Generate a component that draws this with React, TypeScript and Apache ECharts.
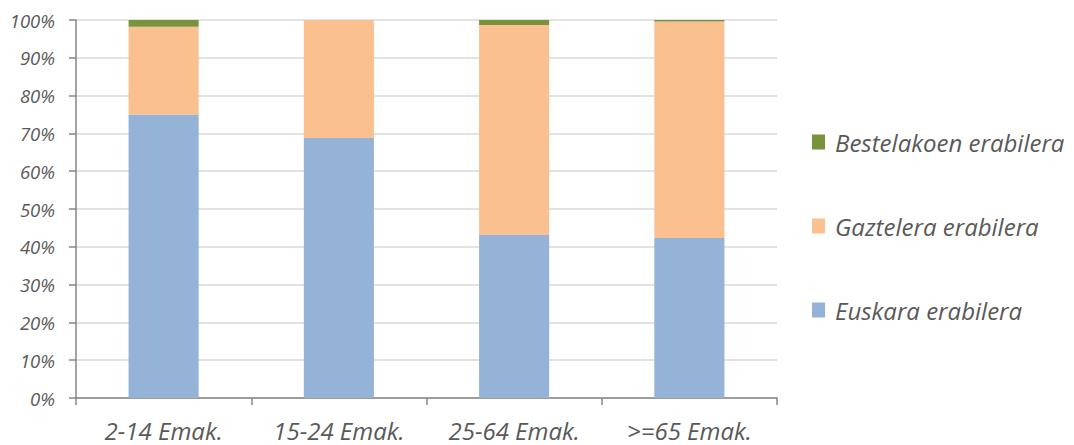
import React, { useEffect, useRef } from "react";
import * as echarts from "echarts";

const categories = ["2-14 Emak.", "15-24 Emak.", "25-64 Emak.", ">=65 Emak."];
const euskara = [75.0, 68.8, 43.1, 42.3];
const gaztelera = [23.2, 31.2, 55.6, 57.3];
const bestelakoen = [1.8, 0.0, 1.3, 0.4];
const yTicks = [0, 10, 20, 30, 40, 50, 60, 70, 80, 90, 100];

const FONT = "'Open Sans', sans-serif";
const TXT = "#595959";
const AXIS = "#868686";

export default function App() {
  const ref = useRef<HTMLDivElement>(null);
  useEffect(() => {
    if (!ref.current) return;
    const chart = echarts.init(ref.current, undefined, { renderer: "svg" });
    chart.setOption({
      animation: false,
      grid: { left: 76, right: 297, top: 20, bottom: 47 },
      legend: {
        orient: "vertical",
        left: 812,
        top: 130,
        padding: 0,
        itemWidth: 13,
        itemHeight: 15,
        itemGap: 60,
        icon: "rect",
        data: ["Bestelakoen erabilera", "Gaztelera erabilera", "Euskara erabilera"],
        textStyle: {
          fontFamily: FONT,
          fontStyle: "italic",
          fontSize: 24,
          color: TXT,
          lineHeight: 24,
          padding: [0, 0, 0, 5],
        },
      },
      xAxis: {
        type: "category",
        data: categories,
        axisLine: { lineStyle: { color: AXIS, width: 1.5 } },
        axisTick: { show: true, length: 7, lineStyle: { color: AXIS, width: 1.5 } },
        axisLabel: {
          fontFamily: FONT,
          fontStyle: "italic",
          fontSize: 24,
          lineHeight: 20,
          color: TXT,
          margin: 22,
        },
      },
      yAxis: {
        type: "value",
        min: yTicks[0],
        max: yTicks[yTicks.length - 1],
        interval: 10,
        axisLine: { show: true, lineStyle: { color: AXIS, width: 1.5 } },
        axisTick: { show: true, length: 7, lineStyle: { color: AXIS, width: 1.5 } },
        splitLine: { lineStyle: { color: "#d9d9d9", width: 1.5 } },
        axisLabel: {
          formatter: "{value}%",
          fontFamily: FONT,
          fontStyle: "italic",
          fontSize: 18.5,
          color: TXT,
          margin: 21,
        },
      },
      series: [
        {
          name: "Euskara erabilera",
          type: "bar",
          stack: "total",
          data: euskara,
          barWidth: "40%",
          itemStyle: { color: "#95b3d7" },
        },
        {
          name: "Gaztelera erabilera",
          type: "bar",
          stack: "total",
          data: gaztelera,
          barWidth: "40%",
          itemStyle: { color: "#fac090" },
        },
        {
          name: "Bestelakoen erabilera",
          type: "bar",
          stack: "total",
          data: bestelakoen,
          barWidth: "40%",
          itemStyle: { color: "#77933c" },
        },
      ],
    });
    return () => chart.dispose();
  }, []);
  return (
    <div
      ref={ref}
      style={{ position: "absolute", left: 0, top: 0, width: 1074, height: 445 }}
    />
  );
}
